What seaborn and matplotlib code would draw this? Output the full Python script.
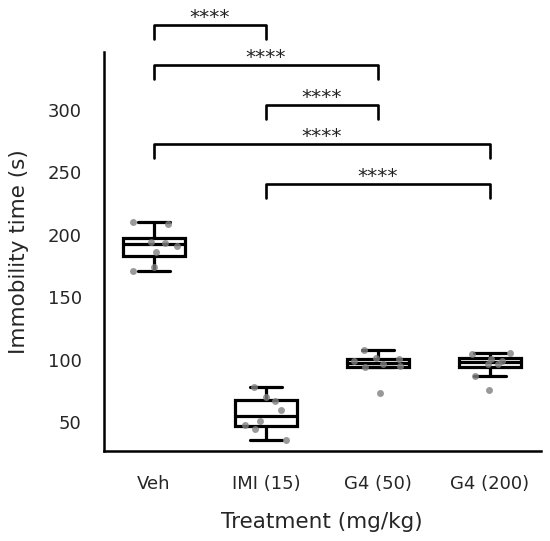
import numpy as np
import pandas as pd
import matplotlib
matplotlib.use("Agg")
import matplotlib.pyplot as plt
import seaborn as sns

# Immobility time values (s)
groups = ["Veh", "IMI (15)", "G4 (50)", "G4 (200)"]
veh = [210.3, 208.3, 194.1, 193.5, 191.1, 186.3, 174.2, 171.3]
imi = [78.2, 70.2, 67.0, 59.2, 50.6, 47.2, 44.2, 35.4]
g4_50 = [107.4, 101.5, 100.5, 98.5, 96.5, 94.5, 94.0, 73.1]
g4_200 = [105.2, 104.2, 100.7, 98.8, 96.7, 96.1, 86.5, 75.3]

# significance brackets: (group a, group b, bracket height)
pairs = [(0, 1, 368), (0, 2, 336), (1, 2, 304), (0, 3, 272.5), (1, 3, 240.5)]
drop = 11.2

df = pd.DataFrame({
    "Treatment": np.repeat(groups, 8),
    "Immobility": veh + imi + g4_50 + g4_200,
})

sns.set_style("white")
plt.rcParams['font.family'] = ['DejaVu Sans']
np.random.seed(7)

fig = plt.figure(figsize=(5.5, 5.41), dpi=100)
ax = fig.add_axes([0.189, 0.1664, 0.794, 0.7376])

sns.boxplot(data=df, x="Treatment", y="Immobility", order=groups, width=0.56,
            color="white", linecolor="black", linewidth=2.3, showfliers=False, ax=ax)
sns.stripplot(data=df, x="Treatment", y="Immobility", order=groups, color="gray",
              alpha=0.8, size=5, jitter=0.22, ax=ax, zorder=5)

for a, b, h in pairs:
    ax.plot([a, a, b, b], [h - drop, h, h, h - drop], color="black", lw=1.9, clip_on=False)
    ax.text((a + b) / 2, h - 1.5, "****", ha="center", va="bottom", fontsize=14.5,
            color="#222222", clip_on=False)

ax.set_ylim(26.7, 346.5)
ax.set_xlim(-0.446, 3.453)
ax.set_yticks([50, 100, 150, 200, 250, 300])
ax.tick_params(length=0, labelsize=13)
ax.tick_params(axis="y", pad=16)
ax.tick_params(axis="x", pad=17)
ax.set_xlabel("Treatment (mg/kg)", fontsize=15.5, labelpad=14)
ax.set_ylabel("Immobility time (s)", fontsize=15.5, labelpad=13)

sns.despine(ax=ax)
for s in ["left", "bottom"]:
    ax.spines[s].set_color("black")
    ax.spines[s].set_linewidth(1.8)

fig.savefig("out.png", dpi=100)
